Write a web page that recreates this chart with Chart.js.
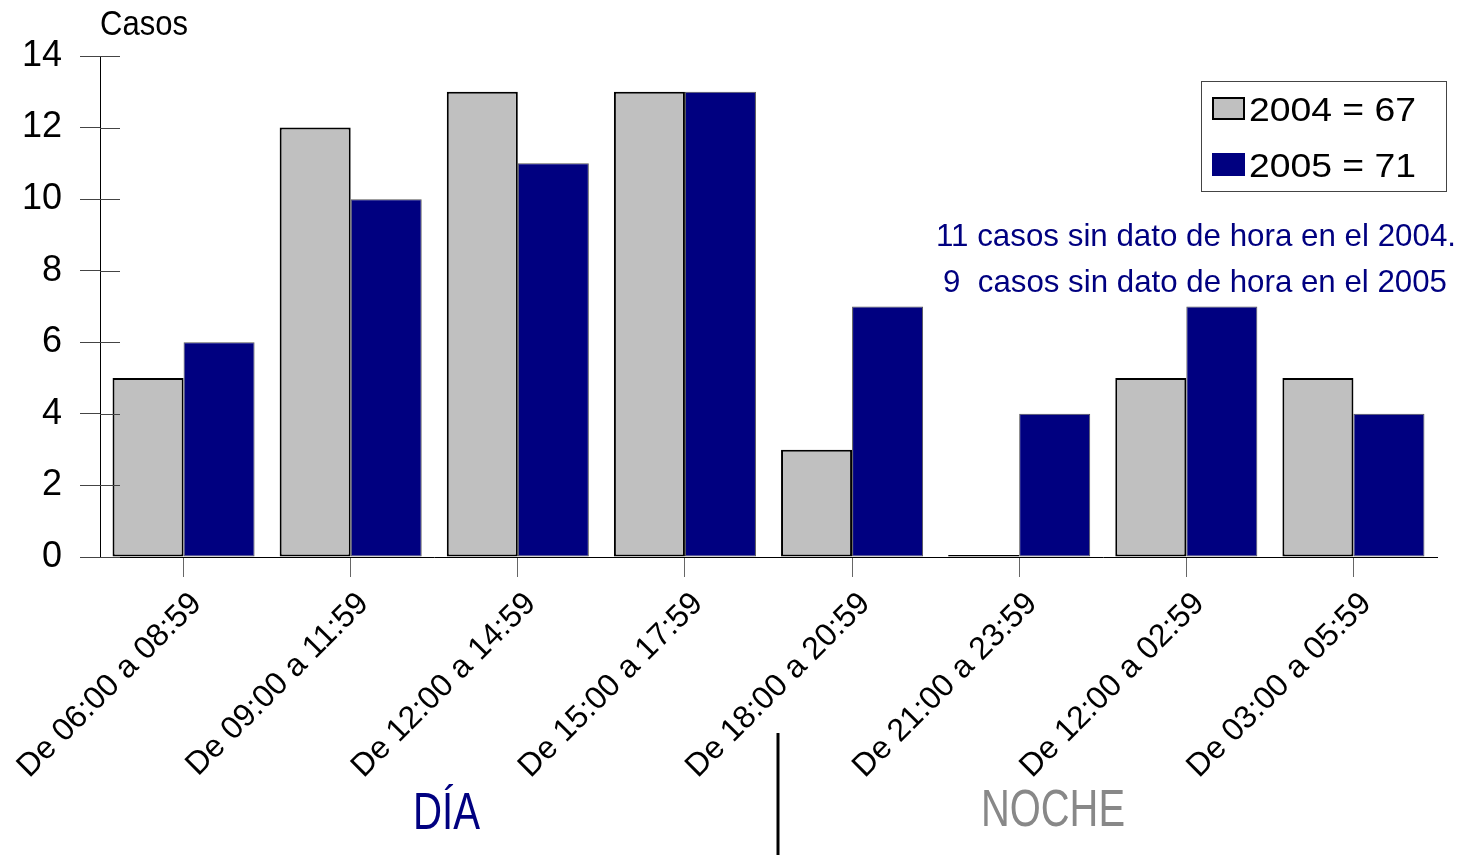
<!DOCTYPE html>
<html>
<head>
<meta charset="utf-8">
<script src="https://cdn.jsdelivr.net/npm/chart.js@4.4.1/dist/chart.umd.min.js"></script>
<style>
  html, body { margin: 0; padding: 0; background: #fff; }
  #wrap { width: 1464px; height: 855px; position: relative; }
</style>
</head>
<body>
<div id="wrap"><canvas id="myChart"></canvas></div>
<script>
const labels_hours = ["De 06:00 a 08:59", "De 09:00 a 11:59", "De 12:00 a 14:59", "De 15:00 a 17:59",
                      "De 18:00 a 20:59", "De 21:00 a 23:59", "De 12:00 a 02:59", "De 03:00 a 05:59"];
const data2004 = [5, 12, 13, 13, 3, 0, 5, 5];
const data2005 = [6, 10, 11, 13, 7, 4, 7, 4];
const legend_labels = ["2004 = 67", "2005 = 71"];
const note_lines = ["11 casos sin dato de hora en el 2004.", "9  casos sin dato de hora en el 2005"];
const y_ticks = [0, 2, 4, 6, 8, 10, 12, 14];

const FONT = "'Liberation Sans', Arial, sans-serif";
Chart.defaults.font.family = FONT;
Chart.defaults.color = '#000';

// draws text squeezed/stretched to a given width
function fitText(ctx, text, x, y, w, size, color) {
    ctx.save();
    ctx.font = size + 'px ' + FONT;
    ctx.fillStyle = color;
    ctx.textBaseline = 'alphabetic';
    ctx.textAlign = 'left';
    const m = ctx.measureText(text).width;
    ctx.translate(x, y);
    ctx.scale(w / m, 1);
    ctx.fillText(text, 0, 0);
    ctx.restore();
}

const extras = {
    id: 'extras',
    afterDatasetsDraw(chart) {
        const ctx = chart.ctx;
        const y = chart.scales.y;
        const left = chart.chartArea.left;
        ctx.save();
        ctx.strokeStyle = '#444';
        ctx.lineWidth = 1;
        y_ticks.forEach(v => {
            const py = Math.round(y.getPixelForValue(v)) + 0.5;
            ctx.beginPath();
            ctx.moveTo(left, py);
            ctx.lineTo(left + 20, py);
            ctx.stroke();
        });
        ctx.restore();
    },
    afterDraw(chart) {
        const ctx = chart.ctx;
        // axis title
        fitText(ctx, 'Casos', 100, 35, 88, 35, '#000');

        // legend
        ctx.save();
        ctx.strokeStyle = '#444';
        ctx.lineWidth = 1;
        ctx.strokeRect(1201.5, 81.5, 245, 110);
        const ds = chart.data.datasets;
        [0, 1].forEach(i => {
            const top = 97 + i * 56;
            ctx.fillStyle = ds[i].backgroundColor;
            ctx.fillRect(1212, top, 33, 23);
            ctx.strokeStyle = i === 0 ? '#000' : '#000080';
            ctx.lineWidth = 2;
            ctx.strokeRect(1213, top + 1, 31, 21);
            fitText(ctx, legend_labels[i], 1249, top + 24, 167, 34, '#000');
        });
        ctx.restore();

        // note
        fitText(ctx, note_lines[0], 936, 246, 520, 32, '#000080');
        fitText(ctx, note_lines[1], 943, 292, 504, 32, '#000080');

        // day / night
        fitText(ctx, 'DÍA', 413, 829, 67, 51, '#000080');
        fitText(ctx, 'NOCHE', 981, 826, 144, 51, '#888888');

        ctx.save();
        ctx.strokeStyle = '#000';
        ctx.lineWidth = 3;
        ctx.beginPath();
        ctx.moveTo(778, 733);
        ctx.lineTo(778, 855);
        ctx.stroke();
        ctx.restore();
    }
};

const config = {
    type: 'bar',
    data: {
        labels: labels_hours,
        datasets: [
            {
                label: legend_labels[0],
                data: data2004,
                backgroundColor: '#C0C0C0',
                borderColor: '#000',
                borderWidth: 2,
                borderSkipped: false,
                minBarLength: 2
            },
            {
                label: legend_labels[1],
                data: data2005,
                backgroundColor: '#000080',
                borderColor: '#555',
                borderWidth: 1,
                borderSkipped: false
            }
        ]
    },
    options: {
        responsive: false,
        animation: false,
        layout: { padding: { left: 0, right: 27, top: 56, bottom: 0 } },
        categoryPercentage: 0.85,
        barPercentage: 1.0,
        plugins: {
            legend: { display: false },
            title: { display: false },
            tooltip: { enabled: false }
        },
        scales: {
            x: {
                offset: true,
                grid: {
                    offset: false,
                    drawOnChartArea: false,
                    drawTicks: true,
                    tickLength: 20,
                    color: '#666'
                },
                border: { display: true, color: '#000', width: 1 },
                ticks: {
                    minRotation: 45,
                    maxRotation: 45,
                    autoSkip: false,
                    padding: 8,
                    labelOffset: 13,
                    font: { size: 32 },
                    color: '#000'
                },
                afterFit(scale) {
                    scale.height = 298;
                    scale.paddingLeft = 0;
                    scale.paddingRight = 0;
                }
            },
            y: {
                min: 0,
                max: 14,
                afterBuildTicks(scale) {
                    scale.ticks = y_ticks.map(v => ({ value: v }));
                },
                grid: {
                    drawOnChartArea: false,
                    drawTicks: true,
                    tickLength: 20,
                    color: '#444'
                },
                border: { display: true, color: '#000', width: 1 },
                ticks: {
                    padding: 18,
                    font: { size: 36 },
                    color: '#000'
                },
                afterFit(scale) {
                    scale.width = 100;
                }
            }
        }
    },
    plugins: [extras]
};

const canvas = document.getElementById('myChart');
canvas.width = 1464;
canvas.height = 855;
const myChart = new Chart(canvas, config);
</script>
</body>
</html>
